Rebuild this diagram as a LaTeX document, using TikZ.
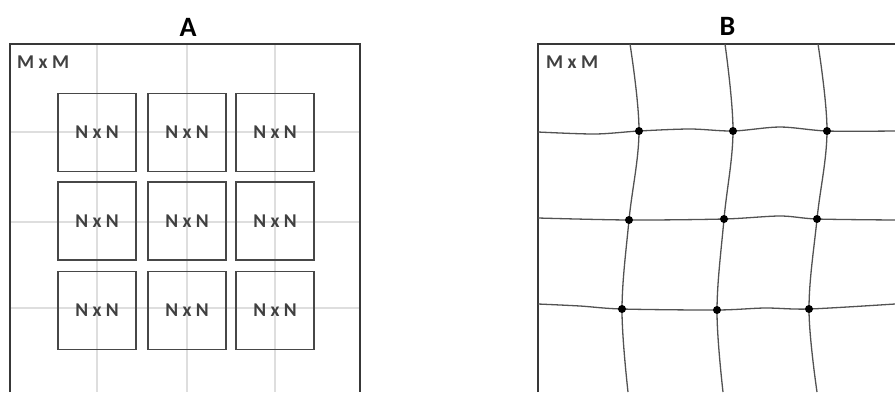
\documentclass[tikz,border=0pt]{standalone}
\usepackage{fontspec}
\setmainfont{Carlito}
\begin{document}
\begin{tikzpicture}[x=1pt,y=-1pt,
  frame/.style={draw=black!78, line width=2pt},
  faint/.style={draw=black!13, line width=1.3pt},
  cell/.style={draw=black!72, line width=1.6pt, minimum size=78pt, inner sep=0pt,
     font=\fontsize{19.5}{19.5}\selectfont\bfseries, text=black!75},
  lbl/.style={inner sep=0pt, font=\fontsize{19.5}{19.5}\selectfont\bfseries, text=black!75},
  ttl/.style={inner sep=0pt, font=\fontsize{28}{28}\selectfont\bfseries, text=black},
  warp/.style={draw=black!68, line width=1.3pt},
  dot/.style={circle, fill=black, inner sep=0pt, minimum size=8pt}]
\useasboundingbox (0,0) rectangle (895,392);
% ---------- Panel A ----------
\node[ttl] (tA) at (188,27) {A};
\foreach \x in {97,187,275} \draw[faint] (\x,44) -- (\x,392);
\foreach \y in {132,222,308} \draw[faint] (10,\y) -- (360,\y);
\draw[frame] (10,392) -- (10,44) -- (360,44) -- (360,392);
\node[lbl, anchor=west] (mA) at (17,62.5) {M x M};
\foreach \c/\x in {1/97,2/187,3/275}
  \foreach \r/\y in {1/132.5,2/221,3/310.5}
    \node[cell] (a\r\c) at (\x,\y) {N x N};
% ---------- Panel B ----------
\node[ttl] (tB) at (727.5,26) {B};
\draw[frame] (538,392) -- (538,44) -- (895,44);
\node[lbl, anchor=west] (mB) at (546,62.5) {M x M};
\coordinate (d11) at (639,131);
\coordinate (d12) at (733,131);
\coordinate (d13) at (827,131);
\coordinate (d21) at (629,220);
\coordinate (d22) at (724,219);
\coordinate (d23) at (817,219);
\coordinate (d31) at (622,309);
\coordinate (d32) at (717,310);
\coordinate (d33) at (809,309);
% vertical warped lines
\draw[warp] plot[smooth, tension=0.6] coordinates {(630,44) (d11) (d21) (d31) (628,392)};
\draw[warp] plot[smooth, tension=0.6] coordinates {(725,44) (d12) (d22) (d32) (723,392)};
\draw[warp] plot[smooth, tension=0.6] coordinates {(818,44) (d13) (d23) (d33) (817,392)};
% horizontal warped lines
\draw[warp] plot[smooth, tension=0.5] coordinates {(538,132) (595,134) (d11) (690,129) (d12) (780,127) (d13) (895,131)};
\draw[warp] plot[smooth, tension=0.5] coordinates {(538,218) (d21) (d22) (780,216) (d23) (895,220)};
\draw[warp] plot[smooth, tension=0.5] coordinates {(538,304) (580,306) (d31) (d32) (765,308) (d33) (895,304)};
\foreach \n in {d11,d12,d13,d21,d22,d23,d31,d32,d33}
  \node[dot] at (\n) {};
\end{tikzpicture}
\end{document}
